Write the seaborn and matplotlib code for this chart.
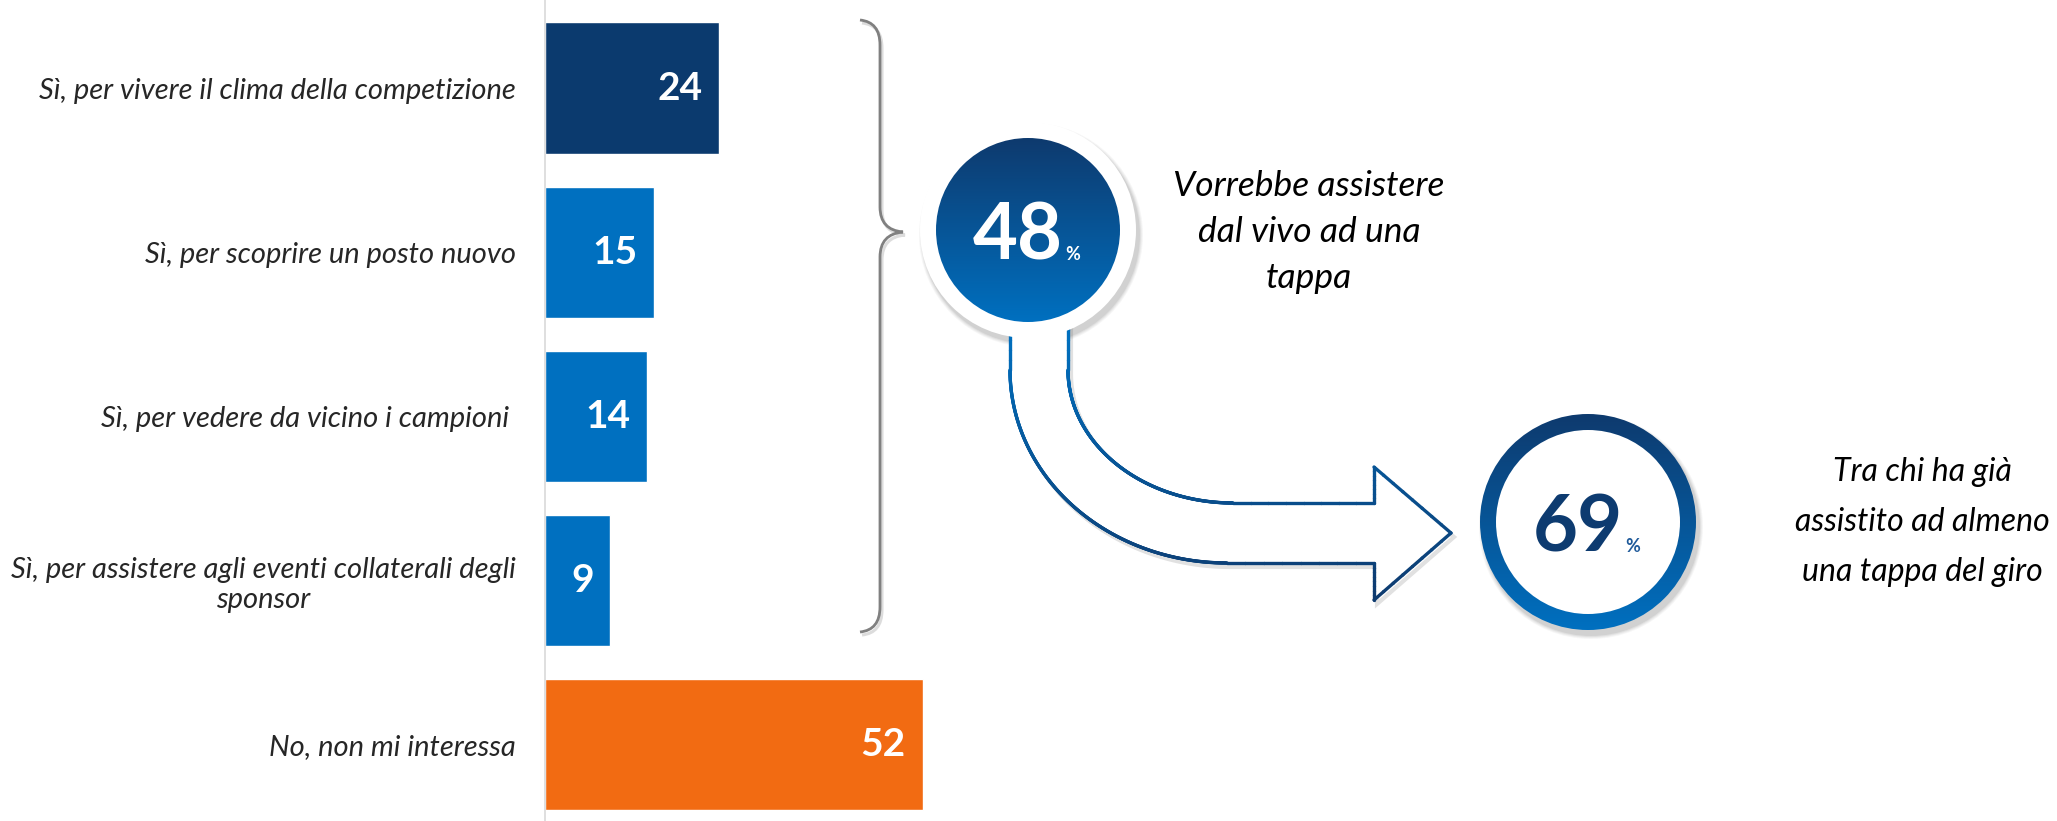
import numpy as np
import pandas as pd
import matplotlib
matplotlib.use("Agg")
import matplotlib.pyplot as plt
import seaborn as sns
from matplotlib.patches import Circle, Polygon, PathPatch
from matplotlib.path import Path
from matplotlib.collections import LineCollection
from matplotlib.colors import to_rgb

# data
categories = [
    "Sì, per vivere il clima della competizione",
    "Sì, per scoprire un posto nuovo",
    "Sì, per vedere da vicino i campioni ",
    "Sì, per assistere agli eventi collaterali degli\nsponsor",
    "No, non mi interessa",
]
values = [24, 15, 14, 9, 52]
bar_colors = ["#0B3A6E", "#0070C0", "#0070C0", "#0070C0", "#F26B12"]

live_share = 48
live_text = ["Vorrebbe assistere", "dal vivo ad una", "tappa"]
past_share = 69
past_text = ["Tra chi ha già", "assistito ad almeno", "una tappa del giro"]

W, H = 2057, 821
DARK = "#0E3A6E"
LIGHT = "#0070C0"

sns.set_style("white")
plt.rcParams["font.family"] = ["Lato", "DejaVu Sans"]

fig = plt.figure(figsize=(W / 100, H / 100), dpi=100)

# bar chart
ax = fig.add_axes([545 / W, 0, 1 - 545 / W, 1])
df = pd.DataFrame({"cat": categories, "val": values})
sns.barplot(data=df, y="cat", x="val", hue="cat", palette=bar_colors,
            orient="h", width=0.8, legend=False, saturation=1, ax=ax)
ax.set_xlim(0, (W - 545) / 7.26)
ax.set_ylim(4.464, -0.536)
ax.set_xlabel("")
ax.set_ylabel("")
ax.set_xticks([])
for s in ["top", "right", "bottom"]:
    ax.spines[s].set_visible(False)
ax.spines["left"].set_color("#D9D9D9")
ax.spines["left"].set_linewidth(1.2)
ax.tick_params(axis="y", length=0, pad=21, labelsize=21)
for lbl in ax.get_yticklabels():
    lbl.set_fontstyle("italic")
    lbl.set_multialignment("center")
for i, v in enumerate(values):
    ax.annotate(str(v), (v, i), xytext=(-12, 0), textcoords="offset points",
                ha="right", va="center", color="white", fontsize=28,
                fontweight="bold")

# overlay in pixel coordinates
ov = fig.add_axes([0, 0, 1, 1], zorder=5)
ov.set_xlim(0, W)
ov.set_ylim(H, 0)
ov.axis("off")
ov.patch.set_alpha(0)


def gradient(c_top, c_bot, n=256):
    t = np.linspace(0, 1, n)[:, None]
    a, b = np.array(to_rgb(c_top)), np.array(to_rgb(c_bot))
    return (a * (1 - t) + b * t)[:, None, :]


def shadow(cx, cy, r):
    for k, a in enumerate([0.05, 0.06, 0.08, 0.1]):
        ov.add_patch(Circle((cx + 3, cy + 5), r + 4 - k, color="#555555",
                            alpha=a, lw=0, zorder=1))


# brace
brace = [
    (Path.MOVETO, (860, 20)), (Path.CURVE3, (880, 22)), (Path.CURVE3, (880, 45)),
    (Path.LINETO, (880, 207)), (Path.CURVE3, (880, 230)), (Path.CURVE3, (903, 232)),
    (Path.CURVE3, (880, 234)), (Path.CURVE3, (880, 257)),
    (Path.LINETO, (880, 607)), (Path.CURVE3, (880, 630)), (Path.CURVE3, (860, 632)),
]
codes, verts = zip(*brace)
ov.add_patch(PathPatch(Path(np.array(verts) + [2, 3], codes), fc="none",
                       ec="#BBBBBB", lw=2.2, alpha=0.5, zorder=1))
ov.add_patch(PathPatch(Path(verts, codes), fc="none", ec="#808080", lw=2, zorder=2))

# curved arrow
t = np.linspace(0, np.pi / 2, 60)
outer = np.c_[1227 - 217 * np.cos(t), 370 + 193 * np.sin(t)]
inner = np.c_[1233 - 165 * np.cos(t), 370 + 133 * np.sin(t)][::-1]
pts = np.vstack([
    [[1010, 290]], outer,
    [[1374, 563], [1374, 600], [1451, 533], [1374, 467], [1374, 503]],
    inner, [[1068, 290], [1010, 290]],
])
ov.add_patch(Polygon(pts + [3, 4], closed=True, fc="none", ec="#888888",
                     lw=3, alpha=0.25, zorder=1))
ov.add_patch(Polygon(pts, closed=True, fc="white", ec="none", zorder=2))
dense = []
for a, b in zip(pts[:-1], pts[1:]):
    for s in np.linspace(0, 1, 8, endpoint=False):
        dense.append(a + (b - a) * s)
dense.append(pts[-1])
dense = np.array(dense)
segs = np.stack([dense[:-1], dense[1:]], axis=1)
tt = np.clip((segs[:, :, 1].mean(axis=1) - 330) / (600 - 330), 0, 1)[:, None]
cols = np.array(to_rgb(LIGHT)) * (1 - tt) + np.array(to_rgb(DARK)) * tt
ov.add_collection(LineCollection(segs, colors=cols, linewidths=2.4, zorder=3,
                                 capstyle="round", joinstyle="round"))

# circle 48
cx, cy = 1028, 230
shadow(cx, cy, 108)
ov.add_patch(Circle((cx, cy), 108, color="white", lw=0, zorder=4))
clip = Circle((cx, cy), 92, transform=ov.transData)
img = ov.imshow(gradient(DARK, LIGHT), extent=[cx - 92, cx + 92, cy - 92, cy + 92],
                origin="lower", aspect="auto", zorder=5)
img.set_clip_path(clip)
ov.text(1063, 260, str(live_share), ha="right", va="baseline", color="white",
        fontsize=56, fontweight="bold", zorder=6)
ov.text(1065, 260, "%", ha="left", va="baseline", color="white",
        fontsize=13, fontweight="bold", zorder=6)
for k, line in enumerate(live_text):
    ov.text(1309, 186 + 46 * k, line, ha="center", va="center", fontsize=25.5,
            fontstyle="italic", color="black", zorder=6)

# circle 69
cx, cy = 1588, 522
shadow(cx, cy, 108)
clip = Circle((cx, cy), 108, transform=ov.transData)
img = ov.imshow(gradient(DARK, LIGHT), extent=[cx - 108, cx + 108, cy - 108, cy + 108],
                origin="lower", aspect="auto", zorder=4)
img.set_clip_path(clip)
ov.add_patch(Circle((cx, cy), 92, color="white", lw=0, zorder=5))
ov.text(1623, 552, str(past_share), ha="right", va="baseline", color="#0D3B70",
        fontsize=56, fontweight="bold", zorder=6)
ov.text(1625, 552, "%", ha="left", va="baseline", color="#1F5A9A",
        fontsize=13, fontweight="bold", zorder=6)
for k, line in enumerate(past_text):
    ov.text(1922, 472 + 50 * k, line, ha="center", va="center", fontsize=23,
            fontstyle="italic", color="black", zorder=6)

fig.savefig("out.png", dpi=100, facecolor="white")
